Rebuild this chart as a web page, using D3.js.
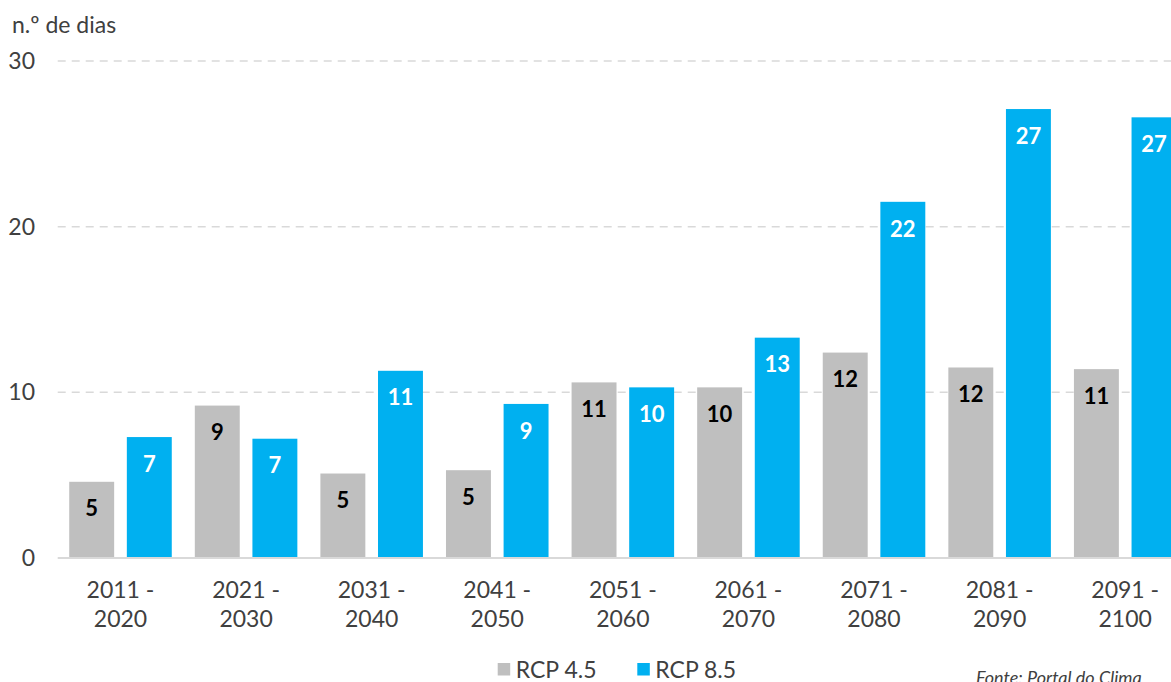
<!DOCTYPE html>
<html>
<head>
<meta charset="utf-8">
<script src="https://cdn.jsdelivr.net/npm/d3@7"></script>
<style>
  body { margin: 0; background: #fff; }
  svg { display: block; font-family: Lato, "Open Sans", sans-serif; }
</style>
</head>
<body>
<svg id="chart" width="1171" height="682"></svg>
<script>
// periods (two-line labels) and values
const periods = [["2011 -", "2020"], ["2021 -", "2030"], ["2031 -", "2040"], ["2041 -", "2050"],
  ["2051 -", "2060"], ["2061 -", "2070"], ["2071 -", "2080"], ["2081 -", "2090"], ["2091 -", "2100"]]
const series = ["RCP 4.5", "RCP 8.5"]
const rcp45 = [4.6, 9.2, 5.1, 5.3, 10.6, 10.3, 12.4, 11.5, 11.4]
const rcp85 = [7.3, 7.2, 11.3, 9.3, 10.3, 13.3, 21.5, 27.1, 26.6]
const yTicks = [0, 10, 20, 30]

const colors = { "RCP 4.5": "#bfbfbf", "RCP 8.5": "#00b0f0" }
const labelColors = { "RCP 4.5": "#000000", "RCP 8.5": "#ffffff" }

const svg = d3.select("#chart")
const plotLeft = 57.7, plotRight = 1188, plotTop = 61, plotBottom = 558

const x0 = d3.scaleBand().domain(d3.range(periods.length)).range([plotLeft, plotRight]).paddingInner(0).paddingOuter(0)
const x1 = d3.scaleBand().domain(series).range([0, x0.bandwidth()]).paddingInner(0.22).paddingOuter(0.2)
const y = d3.scaleLinear().domain([0, 30]).range([plotBottom, plotTop])

// gridlines
svg.append("g").selectAll("line")
  .data(yTicks.filter(t => t > 0))
  .join("line")
  .attr("x1", plotLeft).attr("x2", 1171)
  .attr("y1", d => y(d)).attr("y2", d => y(d))
  .attr("stroke", "#d9d9d9").attr("stroke-width", 1.5)
  .attr("stroke-dasharray", "8,6")

// y tick labels
svg.append("g").selectAll("text")
  .data(yTicks)
  .join("text")
  .attr("x", 35).attr("y", d => y(d))
  .attr("dy", "0.35em")
  .attr("text-anchor", "end")
  .attr("font-size", 23).attr("fill", "#404040")
  .text(d => d)

svg.append("text")
  .attr("x", 12).attr("y", 33)
  .attr("font-size", 23).attr("fill", "#404040")
  .text("n.º de dias")

// bars
const rows = periods.map((p, i) => [
  { key: "RCP 4.5", i, v: rcp45[i] },
  { key: "RCP 8.5", i, v: rcp85[i] }
])

const groups = svg.append("g").selectAll("g")
  .data(rows)
  .join("g")
  .attr("transform", (d, i) => `translate(${x0(i)},0)`)

groups.selectAll("rect")
  .data(d => d)
  .join("rect")
  .attr("x", d => x1(d.key))
  .attr("width", x1.bandwidth())
  .attr("y", d => y(d.v))
  .attr("height", d => y(0) - y(d.v))
  .attr("fill", d => colors[d.key])

groups.selectAll("text")
  .data(d => d)
  .join("text")
  .attr("x", d => x1(d.key) + x1.bandwidth() / 2)
  .attr("y", d => y(d.v) + 27)
  .attr("dy", "0.35em")
  .attr("text-anchor", "middle")
  .attr("font-size", 22).attr("font-weight", "bold")
  .attr("fill", d => labelColors[d.key])
  .text(d => Math.round(d.v))

// baseline
svg.append("line")
  .attr("x1", plotLeft).attr("x2", 1171)
  .attr("y1", y(0)).attr("y2", y(0))
  .attr("stroke", "#d9d9d9").attr("stroke-width", 2)

// x labels
const xl = svg.append("g").selectAll("text")
  .data(periods)
  .join("text")
  .attr("text-anchor", "middle")
  .attr("font-size", 23).attr("fill", "#404040")
xl.append("tspan")
  .attr("x", (d, i) => x0(i) + x0.bandwidth() / 2).attr("y", 598)
  .text(d => d[0])
xl.append("tspan")
  .attr("x", (d, i) => x0(i) + x0.bandwidth() / 2).attr("y", 627)
  .text(d => d[1])

// legend
const legendX = [497.7, 637.3]
const lg = svg.append("g").selectAll("g")
  .data(series)
  .join("g")
  .attr("transform", (d, i) => `translate(${legendX[i]},663)`)
lg.append("rect").attr("width", 12.5).attr("height", 12.5).attr("fill", d => colors[d])
lg.append("text")
  .attr("x", 18).attr("y", 6.5).attr("dy", "0.35em")
  .attr("font-size", 23).attr("fill", "#404040")
  .text(d => d)

svg.append("text")
  .attr("x", 976).attr("y", 684)
  .attr("font-size", 18).attr("font-style", "italic").attr("fill", "#404040")
  .text("Fonte: Portal do Clima")
</script>
</body>
</html>
